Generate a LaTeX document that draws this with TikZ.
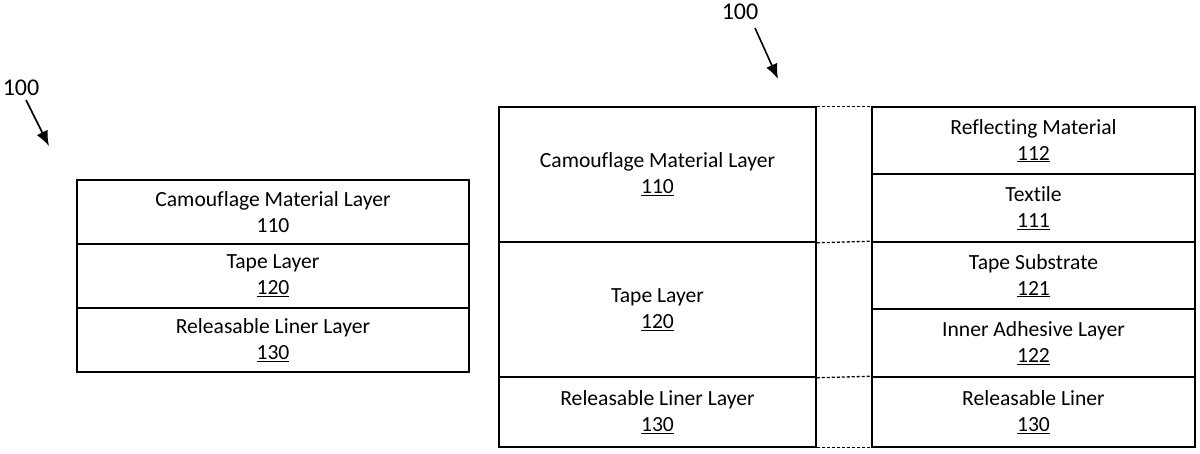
\documentclass[tikz,border=0pt]{standalone}
\usepackage{fontspec}
\setmainfont[Ligatures=NoCommon]{Carlito}
\usetikzlibrary{arrows.meta}
\begin{document}
\begin{tikzpicture}[x=1pt,y=-1pt,
  cell/.style={draw=black, line width=1.5pt, inner sep=0pt, align=center,
    font=\fontsize{21.6}{26}\selectfont, anchor=center},
  link/.style={line width=1.3pt, dash pattern=on 3pt off 2pt},
  refarrow/.style={line width=1.6pt, -{Latex[length=15pt,width=12pt]}},
  reflabel/.style={font=\fontsize{24}{26}\selectfont, inner sep=0pt}]
\useasboundingbox (0,0) rectangle (1200,453);
% left stack
\node[cell, minimum width=392pt, minimum height=64pt] (L1) at (273,212) {Camouflage Material Layer\\110};
\node[cell, minimum width=392pt, minimum height=64pt] (L2) at (273,276) {Tape Layer\\\underline{120}};
\node[cell, minimum width=392pt, minimum height=64pt] (L3) at (273,340) {Releasable Liner Layer\\\underline{130}};
\node[reflabel] (n1) at (21,88) {100};
\coordinate (a1) at (49,146);
\draw[refarrow] (26,100) -- (a1);
% right stack, left column
\node[cell, minimum width=317pt, minimum height=135pt] (R1) at (657.5,174.5) {Camouflage Material Layer\\\underline{110}};
\node[cell, minimum width=317pt, minimum height=135pt] (R2) at (657.5,309.5) {Tape Layer\\\underline{120}};
\node[cell, minimum width=317pt, minimum height=70pt] (R3) at (657.5,412) {Releasable Liner Layer\\\underline{130}};
% right stack, right column
\node[cell, minimum width=323pt, minimum height=67pt] (S1) at (1033.5,140.5) {Reflecting Material\\\underline{112}};
\node[cell, minimum width=323pt, minimum height=68pt] (S2) at (1033.5,208) {Textile\\\underline{111}};
\node[cell, minimum width=323pt, minimum height=67pt] (S3) at (1033.5,275.5) {Tape Substrate\\\underline{121}};
\node[cell, minimum width=323pt, minimum height=68pt] (S4) at (1033.5,343) {Inner Adhesive Layer\\\underline{122}};
\node[cell, minimum width=323pt, minimum height=70pt] (S5) at (1033.5,412) {Releasable Liner\\\underline{130}};
\node[reflabel] (n2) at (740,12) {100};
\coordinate (a2) at (778,79);
\draw[refarrow] (755,28) -- (a2);
% dashed connectors
\draw[link] (R1.north east) -- (S1.north west);
\draw[link] (R1.south east) -- (S3.north west);
\draw[link] (R2.south east) -- (S5.north west);
\draw[link] (R3.south east) -- (S5.south west);
\end{tikzpicture}
\end{document}
